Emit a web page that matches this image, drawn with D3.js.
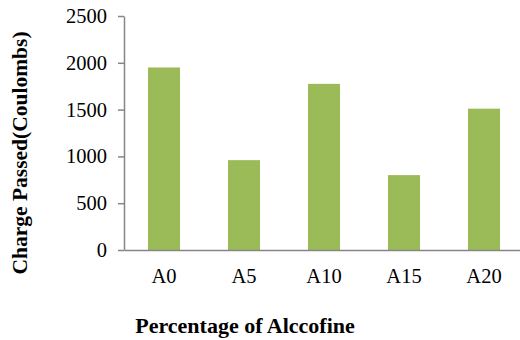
<!DOCTYPE html>
<html lang="en">
<head>
    <meta charset="UTF-8">
    <title>Charge Passed</title>
    <script src="https://d3js.org/d3.v7.min.js"></script>
    <style>
        body { margin: 0; background: #fff; }
        .axis line, .axis path { stroke: #868686; stroke-width: 1.5; }
    </style>
</head>
<body>
    <div id="chart"></div>
    <script>
        const categories = ["A0", "A5", "A10", "A15", "A20"];
        const chargeValues = [1950, 960, 1775, 800, 1510];
        const yTicks = [0, 500, 1000, 1500, 2000, 2500];

        const data = categories.map((c, i) => ({ cat: c, value: chargeValues[i] }));

        const serif = "'Liberation Serif', 'Times New Roman', serif";
        const W = 520, H = 340;
        const margin = { top: 16, right: -4, bottom: 90, left: 124 };
        const width = W - margin.left - margin.right;
        const height = H - margin.top - margin.bottom;

        const svg = d3.select("#chart")
            .append("svg")
            .attr("width", W)
            .attr("height", H);

        const g = svg.append("g")
            .attr("transform", `translate(${margin.left},${margin.top})`);

        const x = d3.scaleBand()
            .domain(categories)
            .range([0, width])
            .paddingInner(0.6)
            .paddingOuter(0.3);

        const y = d3.scaleLinear()
            .domain([0, 2500])
            .range([height, 0]);

        // bars
        g.selectAll(".bar")
            .data(data)
            .enter()
            .append("rect")
            .attr("class", "bar")
            .attr("x", d => x(d.cat))
            .attr("width", x.bandwidth())
            .attr("y", d => y(d.value))
            .attr("height", d => height - y(d.value))
            .attr("fill", "#9BBB59");

        // y axis
        const yAxis = g.append("g")
            .attr("class", "axis")
            .call(d3.axisLeft(y).tickValues(yTicks).tickFormat(d3.format("d"))
                .tickSize(6).tickSizeOuter(0).tickPadding(11));

        // x axis
        const xAxis = g.append("g")
            .attr("class", "axis")
            .attr("transform", `translate(0,${height})`)
            .call(d3.axisBottom(x).tickSize(0).tickSizeOuter(0).tickPadding(18));

        [yAxis, xAxis].forEach(a => a.attr("font-family", null).attr("font-size", null)
            .selectAll("text")
            .style("font-family", serif)
            .style("font-size", "20.5px")
            .style("fill", "#000"));

        // titles
        svg.append("text")
            .style("font-family", serif)
            .style("font-weight", "bold")
            .style("font-size", "21.5px")
            .attr("transform", "translate(27,153) rotate(-90)")
            .attr("text-anchor", "middle")
            .text("Charge Passed(Coulombs)");

        svg.append("text")
            .style("font-family", serif)
            .style("font-weight", "bold")
            .style("font-size", "22px")
            .attr("x", 245)
            .attr("y", 333)
            .attr("text-anchor", "middle")
            .text("Percentage of Alccofine");
    </script>
</body>
</html>
